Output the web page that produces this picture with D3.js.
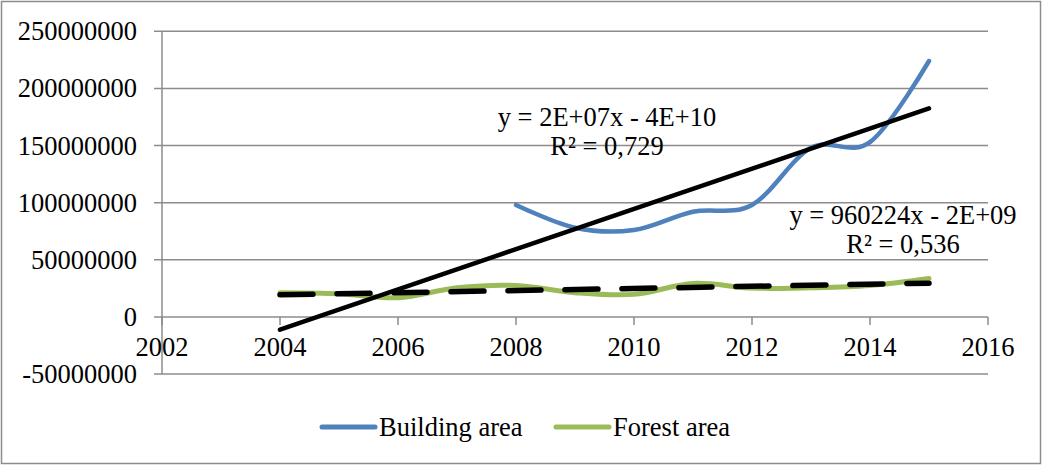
<!DOCTYPE html>
<html>
<head>
<meta charset="utf-8">
<script src="https://cdn.jsdelivr.net/npm/d3@7"></script>
<style>
  body { margin: 0; background: #fff; }
  text { font-family: "Liberation Serif", "Times New Roman", serif; fill: #000; }
</style>
</head>
<body>
<div id="chart"></div>
<script>
// data
const years = [2004, 2005, 2006, 2007, 2008, 2009, 2010, 2011, 2012, 2013, 2014, 2015];
const buildingYears = [2008, 2009, 2010, 2011, 2012, 2013, 2014, 2015];
const buildingArea = [98e6, 78e6, 76e6, 92e6, 98e6, 148e6, 153e6, 224e6];
const forestArea = [21.2e6, 20.3e6, 16.8e6, 25.5e6, 27.5e6, 21.2e6, 19.7e6, 29.3e6, 25.2e6, 25.5e6, 27.5e6, 33.6e6];
const yTicks = [-50e6, 0, 50e6, 100e6, 150e6, 200e6, 250e6];
const xTicks = [2002, 2004, 2006, 2008, 2010, 2012, 2014, 2016];
const seriesNames = ["Building area", "Forest area"];
const buildingEq = ["y = 2E+07x - 4E+10", "R² = 0,729"];
const forestEq = ["y = 960224x - 2E+09", "R² = 0,536"];

const W = 1043, H = 465;
const blue = "#4f81bd", green = "#9bbb59", grid = "#8c8c8c";
const fs = "26.5px";

const svg = d3.select("#chart").append("svg")
  .attr("width", W).attr("height", H);

// outer chart border
svg.append("rect")
  .attr("x", 1.5).attr("y", 1.5)
  .attr("width", 1039).attr("height", 462)
  .attr("fill", "#fff").attr("stroke", "#8c8c8c").attr("stroke-width", 1.5);

const x = d3.scaleLinear().domain([2002, 2016]).range([162, 988]);
const y = d3.scaleLinear().domain([-50e6, 250e6]).range([374, 31.3]);

// horizontal gridlines (with little tick stubs on the left)
svg.append("g").selectAll("line")
  .data(yTicks)
  .join("line")
  .attr("x1", 154).attr("x2", x(2016))
  .attr("y1", d => y(d)).attr("y2", d => y(d))
  .attr("stroke", grid).attr("stroke-width", 1.5);

// y labels (plain hyphen minus like the original)
svg.append("g").selectAll("text")
  .data(yTicks)
  .join("text")
  .attr("x", 137).attr("y", d => y(d) + 9)
  .attr("text-anchor", "end")
  .style("font-size", fs)
  .text(d => String(d));

// vertical axis
svg.append("line")
  .attr("x1", x(2002)).attr("x2", x(2002))
  .attr("y1", y(250e6)).attr("y2", y(-50e6))
  .attr("stroke", grid).attr("stroke-width", 1.5);

// x ticks on the zero line
svg.append("g").selectAll("line")
  .data(xTicks)
  .join("line")
  .attr("x1", d => x(d)).attr("x2", d => x(d))
  .attr("y1", y(0)).attr("y2", y(0) + 8)
  .attr("stroke", grid).attr("stroke-width", 1.5);

svg.append("g").selectAll("text")
  .data(xTicks)
  .join("text")
  .attr("x", d => x(d)).attr("y", y(0) + 39)
  .attr("text-anchor", "middle")
  .style("font-size", fs)
  .text(d => d);

// series
const smooth = d3.line()
  .x(d => x(d[0])).y(d => y(d[1]))
  .curve(d3.curveCardinal.tension(0));

const bData = buildingYears.map((yr, i) => [yr, buildingArea[i]]);
const fData = years.map((yr, i) => [yr, forestArea[i]]);

svg.append("path")
  .attr("d", smooth(fData))
  .attr("fill", "none").attr("stroke", green)
  .attr("stroke-width", 5).attr("stroke-linecap", "round");

svg.append("path")
  .attr("d", smooth(bData))
  .attr("fill", "none").attr("stroke", blue)
  .attr("stroke-width", 4.5).attr("stroke-linecap", "round");

// least squares fit
function linfit(pts) {
  const mx = d3.mean(pts, d => d[0]), my = d3.mean(pts, d => d[1]);
  const sxy = d3.sum(pts, d => (d[0] - mx) * (d[1] - my));
  const sxx = d3.sum(pts, d => (d[0] - mx) ** 2);
  const b = sxy / sxx;
  return t => my + b * (t - mx);
}

const straight = d3.line().x(d => x(d[0])).y(d => y(d[1]));
const span = d3.extent(years);

const bFit = linfit(bData);
svg.append("path")
  .attr("d", straight(span.map(t => [t, bFit(t)])))
  .attr("fill", "none").attr("stroke", "#000")
  .attr("stroke-width", 4.5).attr("stroke-linecap", "round");

const fFit = linfit(fData);
svg.append("path")
  .attr("d", straight(span.map(t => [t, fFit(t)])))
  .attr("fill", "none").attr("stroke", "#000")
  .attr("stroke-width", 5.5).attr("stroke-linecap", "round")
  .attr("stroke-dasharray", "33,24");

// trendline labels
function eqLabel(lines, cx, by) {
  svg.append("g").selectAll("text")
    .data(lines)
    .join("text")
    .attr("x", cx).attr("y", (d, i) => by + i * 29)
    .attr("text-anchor", "middle")
    .style("font-size", fs)
    .text(d => d);
}
eqLabel(buildingEq, 607, 126);
eqLabel(forestEq, 903, 224);

// legend
const legend = svg.append("g");
const legX = [322, 556];
const legColors = [blue, green];
seriesNames.forEach((name, i) => {
  legend.append("line")
    .attr("x1", legX[i]).attr("x2", legX[i] + 53)
    .attr("y1", 427).attr("y2", 427)
    .attr("stroke", legColors[i]).attr("stroke-width", 5)
    .attr("stroke-linecap", "round");
  legend.append("text")
    .attr("x", legX[i] + 57).attr("y", 436)
    .style("font-size", fs)
    .text(name);
});
</script>
</body>
</html>
